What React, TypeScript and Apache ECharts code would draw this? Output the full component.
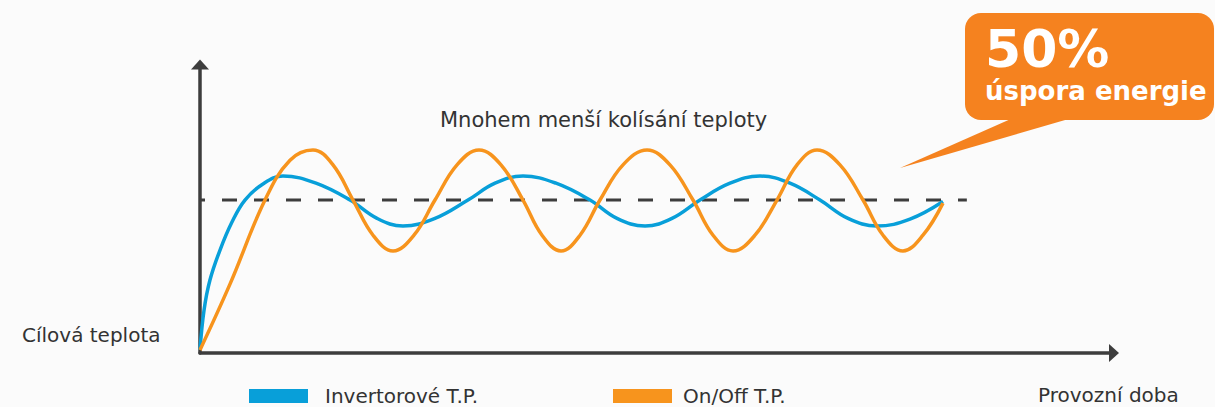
import React, { useEffect, useRef } from "react";
import * as echarts from "echarts";

// Time (arbitrary units, 0..100) and temperature (target = 100)
const inverterTime = [0, 0.44, 1.09, 2.19, 3.5, 4.92, 6.89, 9.08, 12.69, 16.41, 19.37, 22.21, 25.71, 29.32, 32.28, 35.34, 38.95, 42.67, 45.62, 48.69, 51.64, 54.7, 57.99, 61.27, 64.55, 67.83, 70.9, 74.07, 77.68, 81.29];
const inverterTemp = [2, 28, 47.7, 67.3, 85.6, 100, 110.5, 115.7, 111, 100, 88, 83, 88, 100, 111, 115.7, 111, 100, 88, 83, 88, 100, 111, 115.7, 111, 100, 88, 83, 87.5, 99];

const onOffTime = [0, 3.28, 7.11, 9.85, 12.36, 14.55, 16.74, 18.93, 21.12, 23.41, 25.71, 28.12, 30.53, 32.93, 35.34, 37.42, 39.5, 41.58, 43.76, 46.28, 48.91, 51.42, 53.94, 56.13, 58.32, 60.72, 63.13, 65.32, 67.51, 70.02, 72.54, 74.73, 76.91, 79.1, 81.29];
const onOffTemp = [2, 45, 100, 126, 132.7, 123, 100, 77, 66.7, 77, 100, 123, 132.7, 123, 100, 77, 66.7, 77, 100, 123, 132.7, 123, 100, 77, 66.7, 77, 100, 123, 132.7, 123, 100, 77, 66.7, 77, 98];

const targetTime = [0, 83.9];
const targetTemp = 100;

const seriesNames = ["Invertorové T.P.", "On/Off T.P."];
const labelTitle = "Mnohem menší kolísání teploty";
const labelTarget = "Cílová teplota";
const labelTime = "Provozní doba";
const calloutValue = "50%";
const calloutText = "úspora energie";

const BLUE = "#089fd9";
const ORANGE = "#f7941d";
const CALLOUT = "#f5821f";
const AXIS = "#3d3d3d";
const TEXT = "#333333";
const FONT = "'DejaVu Sans', 'Open Sans', sans-serif";

function label(text: string, x: number, y: number, size: number) {
  return {
    type: "text",
    x,
    y,
    style: {
      text,
      font: `${size}px ${FONT}`,
      fill: TEXT,
      align: "left",
      textAlign: "left",
      verticalAlign: "middle",
      textVerticalAlign: "middle",
    },
  };
}

export default function App() {
  const ref = useRef<HTMLDivElement>(null);
  useEffect(() => {
    document.body.style.margin = "0";
    const chart = echarts.init(ref.current!, undefined, { renderer: "svg" });
    const axisLine = {
      show: true,
      symbol: ["none", "triangle"],
      symbolSize: [18, 10],
      lineStyle: { color: AXIS, width: 3.5 },
    };
    const legendBase = {
      top: 381,
      icon: "rect",
      itemWidth: 59,
      itemHeight: 14,
    };
    chart.setOption({
      animation: false,
      backgroundColor: "#fbfbfb",
      grid: { left: 200, right: 101, top: 64.5, bottom: 54 },
      xAxis: {
        type: "value",
        min: 0,
        max: 100,
        axisLine,
        axisTick: { show: false },
        axisLabel: { show: false },
        splitLine: { show: false },
      },
      yAxis: {
        type: "value",
        min: 0,
        max: 188.6,
        axisLine,
        axisTick: { show: false },
        axisLabel: { show: false },
        splitLine: { show: false },
      },
      legend: [
        {
          ...legendBase,
          data: [seriesNames[0]],
          left: 244,
          textStyle: { fontFamily: FONT, fontSize: 20, color: TEXT, padding: [0, 0, 0, 12] },
        },
        {
          ...legendBase,
          data: [seriesNames[1]],
          left: 608,
          textStyle: { fontFamily: FONT, fontSize: 20, color: TEXT, padding: [0, 0, 0, 6] },
        },
      ],
      series: [
        {
          name: "target",
          type: "line",
          data: targetTime.map((t) => [t, targetTemp]),
          symbol: "none",
          lineStyle: { color: AXIS, width: 3, type: [15, 17], dashOffset: 10 },
          z: 1,
        },
        {
          name: seriesNames[0],
          type: "line",
          data: inverterTime.map((t, i) => [t, inverterTemp[i]]),
          smooth: 0.4,
          symbol: "none",
          itemStyle: { color: BLUE },
          lineStyle: { color: BLUE, width: 3.5 },
          z: 2,
        },
        {
          name: seriesNames[1],
          type: "line",
          data: onOffTime.map((t, i) => [t, onOffTemp[i]]),
          smooth: 0.4,
          symbol: "none",
          itemStyle: { color: ORANGE },
          lineStyle: { color: ORANGE, width: 3.5 },
          z: 3,
        },
      ],
      graphic: [
        label(labelTitle, 440, 120, 21),
        label(labelTarget, 22, 335, 20),
        label(labelTime, 1038, 395, 20),
        {
          type: "polygon",
          shape: { points: [[1013, 118], [1072, 118], [900, 168]] },
          style: { fill: CALLOUT },
        },
        {
          type: "rect",
          shape: { x: 965, y: 13, width: 249, height: 107, r: 16 },
          style: { fill: CALLOUT },
        },
        {
          type: "text",
          x: 985,
          y: 21,
          style: {
            text: `{a|${calloutValue}}\n{b|${calloutText}}`,
            fill: "#ffffff",
            align: "left",
            textAlign: "left",
            verticalAlign: "top",
            textVerticalAlign: "top",
            rich: {
              a: { fontFamily: FONT, fontWeight: "bold", fontSize: 52, lineHeight: 56, fill: "#ffffff", color: "#ffffff" },
              b: { fontFamily: FONT, fontWeight: "bold", fontSize: 26, lineHeight: 27, fill: "#ffffff", color: "#ffffff" },
            },
          },
        },
      ],
    });
    return () => chart.dispose();
  }, []);
  return <div ref={ref} style={{ width: 1215, height: 407 }} />;
}
